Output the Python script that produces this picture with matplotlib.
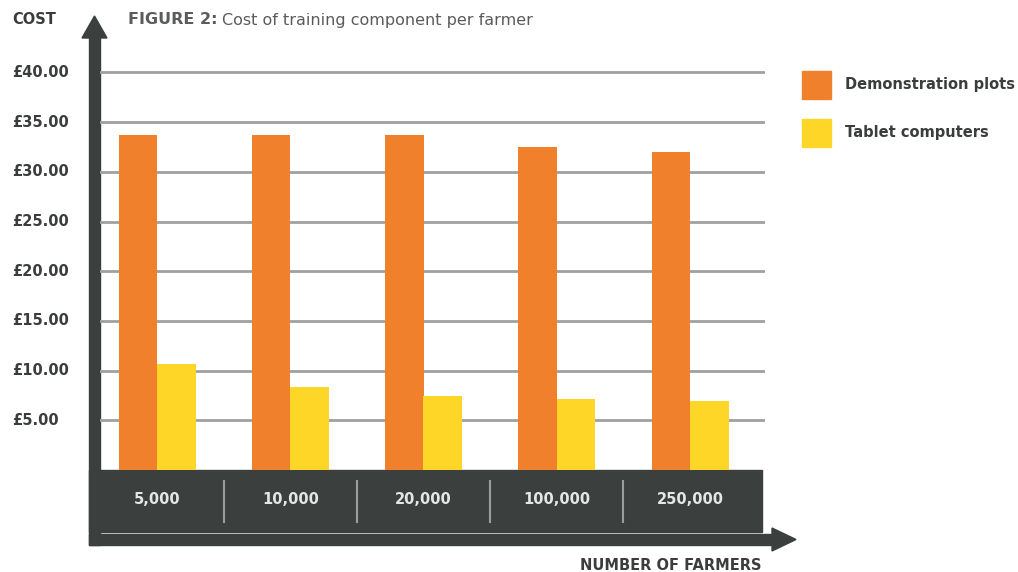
import numpy as np
import matplotlib.pyplot as plt
import matplotlib.patches as mpatches
import matplotlib.transforms as mtransforms

farmers = ["5,000", "10,000", "20,000", "100,000", "250,000"]
demo_plots = [33.7, 33.7, 33.7, 32.5, 32.0]
tablets = [10.7, 8.3, 7.4, 7.15, 6.9]
cost_ticks = [5, 10, 15, 20, 25, 30, 35, 40]
series_names = ["Demonstration plots", "Tablet computers"]

ORANGE = "#F0802C"
YELLOW = "#FDD628"
DARK = "#3B403E"
TEXT = "#3A3D3C"
GRID = "#A0A0A0"

W, H = 1018, 572
fig = plt.figure(figsize=(W / 100, H / 100), dpi=100)
fig.patch.set_facecolor("white")


def fx(px):
    return px / W


def fy(py):
    return 1 - py / H


def add_patch(p):
    p.set_zorder(-1)
    fig.patches.append(p)


# plot area: x in pixels 100..765, y zero at 470, 9.94 px per pound
px_per_unit_y = 9.94
ytop = 40.5
ax = fig.add_axes([fx(100), fy(470), fx(765) - fx(100), ytop * px_per_unit_y / H])
ax.patch.set_visible(False)
group_px = 133.25
ax.set_xlim((100 - 157) / group_px, (765 - 157) / group_px)
ax.set_ylim(0, ytop)
for s in ax.spines.values():
    s.set_visible(False)
ax.set_xticks([])
ax.set_yticks(cost_ticks)
ax.set_yticklabels([])
ax.tick_params(length=0)
ax.yaxis.grid(True, color=GRID, linewidth=2)
ax.set_axisbelow(True)

x = np.arange(len(farmers))
bw = 38.5 / group_px
ax.bar(x - bw / 2, demo_plots, width=bw, color=ORANGE, zorder=3)
ax.bar(x + bw / 2, tablets, width=bw, color=YELLOW, zorder=3)

font = "DejaVu Sans"

# y tick labels, left aligned
ytrans = mtransforms.blended_transform_factory(fig.transFigure, ax.transData)
for v in cost_ticks:
    ax.text(fx(12), v, f"£{v:.2f}", transform=ytrans, ha="left", va="center",
            fontsize=10.5, fontweight="bold", color=TEXT, family=font)

# axis band and arrows
add_patch(mpatches.Rectangle((fx(89), fy(532)), fx(762) - fx(89), fy(470) - fy(532),
                             transform=fig.transFigure, color=DARK))
add_patch(mpatches.Rectangle((fx(89), fy(545)), fx(775) - fx(89), fy(534) - fy(545),
                             transform=fig.transFigure, color=DARK))
add_patch(mpatches.Polygon([(fx(772), fy(528)), (fx(796), fy(539.5)), (fx(772), fy(551))],
                           closed=True, transform=fig.transFigure, color=DARK))
add_patch(mpatches.Rectangle((fx(89), fy(545)), fx(100) - fx(89), fy(35) - fy(545),
                             transform=fig.transFigure, color=DARK))
add_patch(mpatches.Polygon([(fx(82), fy(38)), (fx(94.5), fy(16)), (fx(107), fy(38))],
                           closed=True, transform=fig.transFigure, color=DARK))

# category labels and separators in the band
xtrans = mtransforms.blended_transform_factory(ax.transData, fig.transFigure)
for i, lab in enumerate(farmers):
    ax.text(i, fy(499), lab, transform=xtrans, ha="center", va="center",
            fontsize=10.5, fontweight="bold", color="#E6E6E6", family=font)
for i in range(len(farmers) - 1):
    ax.plot([i + 0.5, i + 0.5], [fy(481), fy(522)], transform=xtrans,
            color="#9A9E9C", linewidth=1.5, clip_on=False)

# titles
fig.text(fx(12), fy(20), "COST", ha="left", va="center", fontsize=10.5,
         fontweight="bold", color=TEXT, family=font)
t1 = fig.text(fx(128), fy(20), "FIGURE 2:", ha="left", va="center", fontsize=11.5,
              fontweight="bold", color="#5A5C5B", family=font)
fig.canvas.draw()
bb = t1.get_window_extent()
fig.text(bb.x1 / W + fx(4), fy(20), "Cost of training component per farmer", ha="left",
         va="center", fontsize=11.5, color="#5A5C5B", family=font)
fig.text(fx(762), fy(565), "NUMBER OF FARMERS", ha="right", va="center", fontsize=10.5,
         fontweight="bold", color=TEXT, family=font)

# legend
for name, col, yc in zip(series_names, [ORANGE, YELLOW], [85, 133]):
    add_patch(mpatches.Rectangle((fx(802), fy(yc + 14)), fx(29), 28 / H,
                                 transform=fig.transFigure, color=col))
    fig.text(fx(845), fy(yc), name, ha="left", va="center", fontsize=10.5,
             fontweight="bold", color=TEXT, family=font)

fig.savefig("out.png", dpi=100)
